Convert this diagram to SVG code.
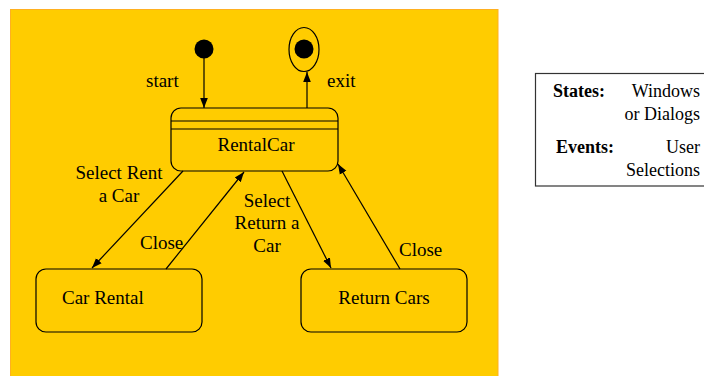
<svg xmlns="http://www.w3.org/2000/svg" width="704" height="376" viewBox="0 0 704 376">
<defs>
<marker id="ah" viewBox="0 0 10 10" refX="10" refY="5" markerWidth="10" markerHeight="10" markerUnits="userSpaceOnUse" orient="auto"><path d="M0,1.2 L10,5 L0,8.8 Z" fill="#000"/></marker>
</defs>
<style>
.t{font-family:"Liberation Serif","Times New Roman",serif;font-size:19px;fill:#000}
.l{font-family:"Liberation Serif","Times New Roman",serif;font-size:18px;fill:#000}
.b{font-weight:bold}
.st{fill:none;stroke:#000;stroke-width:1.2}
.e{stroke:#000;stroke-width:1.2;fill:none;marker-end:url(#ah)}
</style>
<rect x="10.5" y="9.5" width="487.5" height="367" fill="#FFCC00" stroke="#FFB020" stroke-width="1"/>
<g id="start">
<circle cx="204" cy="49" r="9.5" fill="#000"/>
</g>
<g id="end">
<ellipse cx="304" cy="49.5" rx="15" ry="22" class="st"/>
<circle cx="304" cy="49" r="9.5" fill="#000"/>
</g>
<g id="rentalcar">
<rect x="171" y="108" width="167" height="63" rx="10" class="st"/>
<line x1="171" y1="121" x2="338" y2="121" class="st"/>
<line x1="171" y1="129" x2="338" y2="129" class="st"/>
<text x="256" y="151" class="t" text-anchor="middle">RentalCar</text>
</g>
<g id="carrental">
<rect x="36" y="269" width="166" height="63" rx="10" class="st"/>
<text x="62" y="304" class="t">Car Rental</text>
</g>
<g id="returncars">
<rect x="301" y="269" width="166" height="63" rx="10" class="st"/>
<text x="384" y="304" class="t" text-anchor="middle">Return Cars</text>
</g>
<g id="connectors">
<line x1="204" y1="58" x2="204" y2="108" class="e"/>
<line x1="307" y1="108" x2="307" y2="72" class="e"/>
<line x1="183" y1="171" x2="92" y2="268" class="e"/>
<line x1="166" y1="269" x2="244" y2="172" class="e"/>
<line x1="282" y1="171" x2="331" y2="268" class="e"/>
<line x1="400" y1="269" x2="338" y2="164" class="e"/>
<text x="146" y="87" class="t">start</text>
<text x="327" y="87" class="t">exit</text>
<text x="119" y="179" class="t" text-anchor="middle">Select Rent</text>
<text x="119" y="202" class="t" text-anchor="middle">a Car</text>
<text x="140" y="249" class="t">Close</text>
<text x="267" y="207" class="t" text-anchor="middle">Select</text>
<text x="267" y="229" class="t" text-anchor="middle">Return a</text>
<text x="267" y="252" class="t" text-anchor="middle">Car</text>
<text x="399" y="256" class="t">Close</text>
</g>
<g id="legend">
<rect x="535.5" y="73.5" width="170" height="112.5" fill="#fff" stroke="#333" stroke-width="1.2"/>
<text x="553" y="97" class="l b">States:</text>
<text x="700" y="97" class="l" text-anchor="end">Windows</text>
<text x="700" y="120" class="l" text-anchor="end">or Dialogs</text>
<text x="556" y="153" class="l b">Events:</text>
<text x="700" y="153" class="l" text-anchor="end">User</text>
<text x="700" y="176" class="l" text-anchor="end">Selections</text>
</g>
</svg>
